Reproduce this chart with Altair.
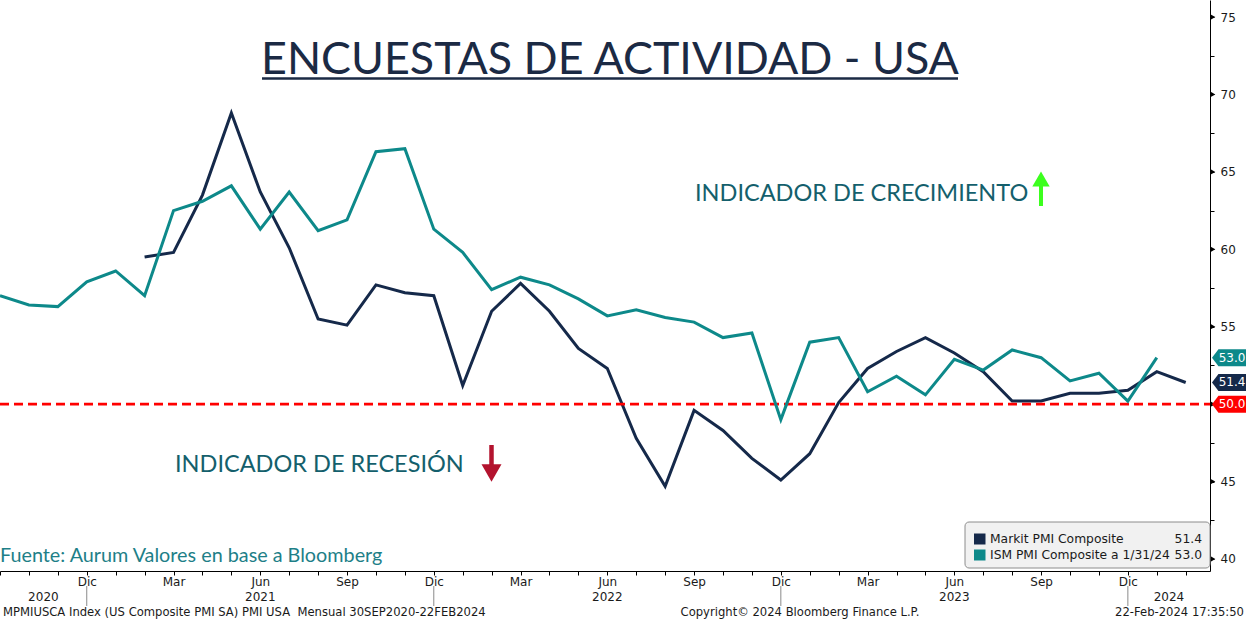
import altair as alt
import pandas as pd

# ---- data (monthly, first month = Sep 2020) ----
month_names = ["Sep", "Oct", "Nov", "Dic", "Ene", "Feb", "Mar", "Abr", "May", "Jun", "Jul", "Ago"]
year_names = ["2020", "2021", "2022", "2023", "2024"]

ism_name = "ISM PMI Composite a 1/31/24"
ism = [57.0, 56.4, 56.3, 57.9, 58.6, 57.0, 62.5, 63.1, 64.1, 61.3,
       63.7, 61.2, 61.9, 66.3, 66.5, 61.3, 59.8, 57.4, 58.2, 57.7,
       56.8, 55.7, 56.1, 55.6, 55.3, 54.3, 54.6, 49.0, 54.0, 54.3,
       50.8, 51.8, 50.6, 52.9, 52.2, 53.5, 53.0, 51.5, 52.0, 50.2,
       53.0]

markit_name = "Markit PMI Composite"
markit_start = 5  # series begins in Feb 2021
markit = [59.5, 59.8, 63.5, 68.8, 63.7, 60.1, 55.5, 55.1, 57.7, 57.2,
          57.0, 51.2, 56.0, 57.8, 56.0, 53.6, 52.3, 47.8, 44.7, 49.6,
          48.3, 46.5, 45.1, 46.8, 50.1, 52.3, 53.4, 54.3, 53.3, 52.1,
          50.2, 50.2, 50.7, 50.7, 50.9, 52.1, 51.4]

threshold = 50.0

NAVY = "#15294a"
TEAL = "#0d898a"
RED = "#ff0000"
TXT_TEAL = "#145f6c"

W, H = 1210, 571
n_months = markit_start + len(markit)
x_max = 41.84

df_ism = pd.DataFrame({"idx": list(range(len(ism))), "value": ism})
df_markit = pd.DataFrame({"idx": list(range(markit_start, markit_start + len(markit))), "value": markit})

xs = alt.Scale(domain=[0, x_max], nice=False, zero=False)
ys = alt.Scale(domain=[39.225, 76.1], nice=False, zero=False)

names_js = "[" + ",".join("'" + m + "'" for m in month_names) + "]"
month_expr = "datum.value > 0 && datum.value % 3 == 0 ? " + names_js + "[datum.value % 12] : ''"
x_axis = alt.Axis(
    values=list(range(n_months)), tickSize=4, tickColor="black", tickWidth=1,
    domainColor="black", domainWidth=1, grid=False, title=None,
    labelExpr=month_expr,
    labelFont="DejaVu Sans", labelFontSize=12, labelColor="#1a1a1a",
    labelPadding=1, labelOverlap=False, labelFlush=False,
)
# the threshold level carries its own badge on the axis, so its plain label is left blank
y_axis = alt.Axis(
    orient="right", values=[40 + 2.5 * i for i in range(15)], tickSize=4,
    tickColor="black", domainColor="black", grid=False, title=None,
    labelExpr="datum.value %% 5 == 0 && datum.value != %g ? datum.label : ''" % threshold,
    labelFont="DejaVu Sans", labelFontSize=12, labelColor="#1a1a1a",
    labelPadding=6, labelOverlap=False,
)


def X(field):
    return alt.X(field, scale=xs, axis=x_axis)


def Y(field):
    return alt.Y(field, scale=ys, axis=y_axis)


one = alt.Data(values=[{}])

# ---- series ----
markit_line = alt.Chart(df_markit).mark_line(color=NAVY, strokeWidth=3).encode(
    x=X("idx:Q"), y=Y("value:Q"),
)
ism_line = alt.Chart(df_ism).mark_line(color=TEAL, strokeWidth=3).encode(
    x=X("idx:Q"), y=Y("value:Q"),
)

thr_df = pd.DataFrame({"value": [threshold]})
thr_rule = alt.Chart(thr_df).mark_rule(color=RED, strokeWidth=2.6, strokeDash=[9, 5]).encode(
    y=Y("value:Q"), x=alt.value(0), x2=alt.value(W),
)

# ---- right-axis markers ----
major_df = pd.DataFrame({"value": [40 + 5 * i for i in range(8)]})
major_marks = alt.Chart(major_df).mark_point(shape="triangle-right", filled=True, size=28,
                                              color="black", opacity=1).encode(
    y=Y("value:Q"), x=alt.value(W + 3),
)

# ---- value badges on the right axis ----
badge_df = pd.DataFrame({
    "value": [ism[-1], markit[-1], threshold],
    "fill": [TEAL, NAVY, RED],
})
badge_shape = "M -1 0 L -0.62 -0.5 L 1 -0.5 L 1 0.5 L -0.62 0.5 Z"
badges = alt.Chart(badge_df).mark_point(shape=badge_shape, filled=True, size=1156,
                                         opacity=1, strokeWidth=0).encode(
    y=Y("value:Q"), x=alt.value(W + 19),
    color=alt.Color("fill:N", scale=None),
)
badge_text = alt.Chart(badge_df).mark_text(color="white", font="DejaVu Sans", fontSize=12,
                                            align="center", baseline="middle").encode(
    y=Y("value:Q"), x=alt.value(W + 22),
    text=alt.Text("value:Q", format=".1f"),
)

# ---- year band under the month axis ----
dic_idx = [i for i in range(n_months) if month_names[i % 12] == "Dic"]
bounds = [0] + dic_idx + [x_max]
year_df = pd.DataFrame({
    "year": year_names,
    "mid": [(bounds[i] + bounds[i + 1]) / 2 for i in range(len(year_names))],
})
year_text = alt.Chart(year_df).mark_text(font="DejaVu Sans", fontSize=12, color="#1a1a1a",
                                          baseline="middle").encode(
    x=X("mid:Q"), y=alt.value(597), text="year:N",
)
sep_df = pd.DataFrame({"idx": dic_idx})
year_sep = alt.Chart(sep_df).mark_rule(color="#8a8a8a", strokeWidth=1).encode(
    x=X("idx:Q"), y=alt.value(586), y2=alt.value(606),
)


def label(text, x, y, **kw):
    return alt.Chart(one).mark_text(text=text, **kw).encode(x=alt.value(x), y=alt.value(y))


# ---- title ----
title = label("ENCUESTAS DE ACTIVIDAD - USA", 610, 74, font="Lato", fontSize=44.8,
              color="#1b2a44", align="center", baseline="alphabetic")
title_rule = alt.Chart(one).mark_rule(color="#1b2a44", strokeWidth=2.5).encode(
    x=alt.value(262), x2=alt.value(958), y=alt.value(78.5))

# ---- annotations ----
crec = label("INDICADOR DE CRECIMIENTO", 695, 201, font="Lato", fontSize=23.5,
             color=TXT_TEAL, align="left", baseline="alphabetic")
rec = label("INDICADOR DE RECESIÓN", 175, 472, font="Lato", fontSize=23.5,
            color=TXT_TEAL, align="left", baseline="alphabetic")

up_stem = alt.Chart(one).mark_rule(color="#3cff1e", strokeWidth=4).encode(
    x=alt.value(1041), y=alt.value(183), y2=alt.value(206))
up_head = alt.Chart(one).mark_point(shape="triangle-up", filled=True, size=300,
                                     color="#3cff1e", opacity=1).encode(
    x=alt.value(1041), y=alt.value(179))
down_stem = alt.Chart(one).mark_rule(color="#b3132e", strokeWidth=4.5).encode(
    x=alt.value(491.5), y=alt.value(445), y2=alt.value(470))
down_head = alt.Chart(one).mark_point(shape="triangle-down", filled=True, size=400,
                                       color="#b3132e", opacity=1).encode(
    x=alt.value(491.5), y=alt.value(473))

source = label("Fuente: Aurum Valores en base a Bloomberg", 0, 562, font="Lato", fontSize=19.8,
               color="#1e7f88", align="left", baseline="alphabetic")

# ---- legend box ----
legend_box = alt.Chart(one).mark_rect(fill="#f1f1f1", stroke="#8c8c8c", strokeWidth=1,
                                       cornerRadius=4).encode(
    x=alt.value(965), x2=alt.value(W), y=alt.value(522), y2=alt.value(568))
legend_parts = []
for i, (name, col, val) in enumerate([(markit_name, NAVY, markit[-1]), (ism_name, TEAL, ism[-1])]):
    yc = 539 + 16 * i
    legend_parts.append(alt.Chart(one).mark_rect(fill=col).encode(
        x=alt.value(974), x2=alt.value(985.5), y=alt.value(yc - 5.5), y2=alt.value(yc + 5.5)))
    legend_parts.append(label(name, 990, yc, font="DejaVu Sans", fontSize=12.3,
                              color="#1a1a1a", align="left", baseline="middle"))
    legend_parts.append(label("%.1f" % val, 1202, yc, font="DejaVu Sans", fontSize=12.3,
                              color="#1a1a1a", align="right", baseline="middle"))

# ---- footer ----
foot_l = label("MPMIUSCA Index (US Composite PMI SA) PMI USA\u00a0 Mensual 30SEP2020-22FEB2024", 3, 613,
               font="DejaVu Sans", fontSize=11.6, color="#1a1a1a", align="left", baseline="middle")
foot_c = label("Copyright\u00a9 2024 Bloomberg Finance L.P.", 800, 613,
               font="DejaVu Sans", fontSize=11.6, color="#1a1a1a", align="center", baseline="middle")
foot_r = label("22-Feb-2024 17:35:50", 1244, 613,
               font="DejaVu Sans", fontSize=11.6, color="#1a1a1a", align="right", baseline="middle")

chart = alt.layer(
    markit_line, thr_rule, ism_line, major_marks, badges, badge_text,
    year_sep, year_text, title, title_rule, crec, rec, up_stem, up_head,
    down_stem, down_head, source, legend_box, *legend_parts, foot_l, foot_c, foot_r,
).properties(
    width=W, height=H,
    padding={"left": 0, "top": 0, "right": 36, "bottom": 51},
    autosize=alt.AutoSizeParams(type="none"),
    background="white",
).configure_view(stroke=None).configure_axis(labelOverlap=False)

chart.save("out.html", embed_options={"renderer": "svg", "actions": False})
